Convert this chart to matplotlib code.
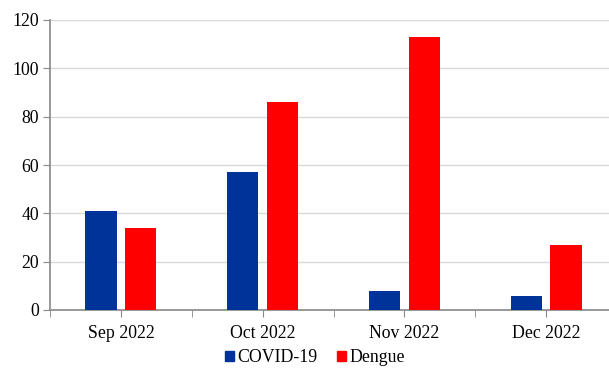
import matplotlib
matplotlib.use("Agg")
import matplotlib.pyplot as plt
import numpy as np
from matplotlib.patches import Patch

months = ["Sep 2022", "Oct 2022", "Nov 2022", "Dec 2022"]
covid = [41, 57, 8, 6]
dengue = [34, 86, 113, 27]
yticks = [0, 20, 40, 60, 80, 100, 120]

plt.rcParams['font.family'] = ['Liberation Serif', 'DejaVu Serif']

fig = plt.figure(figsize=(6.09, 3.72), dpi=100)
ax = fig.add_axes([50/609, 1-310/372, 567/609, 290/372])

x = np.arange(len(months))
w = 0.22
blue = '#003399'
red = '#FF0000'
ax.bar(x - 0.14, covid, w, color=blue, zorder=3)
ax.bar(x + 0.14, dengue, w, color=red, zorder=3)

ax.set_xlim(-0.5, len(months) - 0.5)
ax.set_ylim(0, 120)
ax.set_yticks(yticks)
ax.set_yticklabels([str(v) for v in yticks], fontsize=12.8)
ax.set_xticks(x)
ax.set_xticklabels(months, fontsize=12.8)
ax.set_xticks(np.arange(-0.5, len(months), 1), minor=True)
ax.tick_params(axis='x', which='both', length=5, color='#888888', direction='out', pad=6)
ax.tick_params(axis='y', length=5, color='#888888', direction='out', pad=3)

ax.grid(axis='y', color='#d9d9d9', linewidth=1, zorder=0)
for s in ['top', 'right']:
    ax.spines[s].set_visible(False)
for s in ['left', 'bottom']:
    ax.spines[s].set_color('#888888')
    ax.spines[s].set_linewidth(1.2)

handles = [Patch(color=blue, label='COVID-19'), Patch(color=red, label='Dengue')]
fig.legend(handles=handles, loc='center', bbox_to_anchor=(315/609, 1-358/372), ncol=2,
           frameon=False, fontsize=12.8, handlelength=0.5, handleheight=0.5,
           handletextpad=0.2, columnspacing=1.1)

fig.savefig("out.png", dpi=100)
